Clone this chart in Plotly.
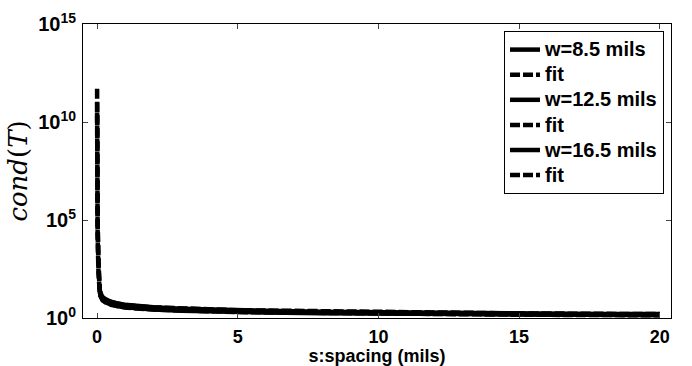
import plotly.graph_objects as go

# ---- data ----
s_data = [0.1, 0.2, 0.3, 0.5, 0.75, 1, 1.5, 2, 3, 4, 5, 6, 8, 10, 12, 14, 16, 18, 20]
cond_w85 = [22, 11, 8.5, 6.5, 5.3, 4.7, 3.9, 3.5, 3.0, 2.7, 2.5, 2.35, 2.1, 1.95, 1.85, 1.75, 1.68, 1.62, 1.58]
cond_w125 = [18, 9.5, 7.2, 5.5, 4.6, 4.0, 3.4, 3.0, 2.6, 2.35, 2.2, 2.05, 1.88, 1.76, 1.67, 1.6, 1.54, 1.49, 1.45]
cond_w165 = [15, 8, 6.2, 4.8, 4.0, 3.5, 3.0, 2.7, 2.35, 2.15, 2.0, 1.9, 1.75, 1.65, 1.57, 1.5, 1.45, 1.41, 1.38]

s_fit = [0.001, 0.002, 0.005, 0.01, 0.02, 0.05, 0.1, 0.2, 0.5, 1, 2, 5, 10, 15, 20]
fit_w85 = [5e11, 1e10, 2e8, 5e6, 1e5, 800, 24, 11, 6.4, 4.6, 3.5, 2.5, 1.95, 1.72, 1.58]
fit_w125 = [1e11, 3e9, 6e7, 1.5e6, 4e4, 400, 19, 9.5, 5.4, 3.9, 3.0, 2.2, 1.76, 1.55, 1.45]
fit_w165 = [3e10, 8e8, 2e7, 5e5, 1.5e4, 200, 16, 8, 4.7, 3.4, 2.7, 2.0, 1.65, 1.47, 1.38]

series_names = ["w=8.5 mils", "fit", "w=12.5 mils", "fit", "w=16.5 mils", "fit"]

x_ticks = [0, 5, 10, 15, 20]
y_ticks = [1, 1e5, 1e10, 1e15]
y_ticktext = ["10<sup>0</sup>", "10<sup>5</sup>", "10<sup>10</sup>", "10<sup>15</sup>"]

SANS = "Liberation Sans, Arial, sans-serif"


def legend_label(name):
    return '<span style="font-size:20px">' + name + '</span>'


fig = go.Figure()
pairs = [(s_data, cond_w85, s_fit, fit_w85),
         (s_data, cond_w125, s_fit, fit_w125),
         (s_data, cond_w165, s_fit, fit_w165)]
for i, (sx, sy, fx, fy) in enumerate(pairs):
    fig.add_trace(go.Scatter(x=sx, y=sy, mode="lines", name=legend_label(series_names[2 * i]),
                             line=dict(color="black", width=4.5)))
    fig.add_trace(go.Scatter(x=fx, y=fy, mode="lines", name=legend_label(series_names[2 * i + 1]),
                             line=dict(color="black", width=4.5, dash="10px,3px")))

fig.update_layout(
    width=692, height=366,
    margin=dict(l=83, r=21, t=24, b=48),
    paper_bgcolor="white", plot_bgcolor="white",
    showlegend=True,
    legend=dict(x=0.716, y=0.976, xanchor="left", yanchor="top",
                bgcolor="white", bordercolor="black", borderwidth=1,
                font=dict(family=SANS, size=17, color="black", weight="bold"),
                tracegroupgap=0),
    xaxis=dict(range=[-0.5, 20.4], tickvals=x_ticks, ticks="inside", ticklen=5,
               ticklabelstandoff=2,
               showline=True, linecolor="black", linewidth=1, mirror="ticks",
               showgrid=False, zeroline=False, automargin=False,
               tickfont=dict(family=SANS, size=18, color="black", weight="bold"),
               title=dict(text="s:spacing (mils)", standoff=2,
                          font=dict(family=SANS, size=18, color="black", weight="bold"))),
    yaxis=dict(type="log", range=[0, 15], tickvals=y_ticks, ticktext=y_ticktext,
               ticks="inside", ticklen=5, ticklabelstandoff=2,
               showline=True, linecolor="black", linewidth=1, mirror="ticks",
               showgrid=False, zeroline=False, automargin=False,
               tickfont=dict(family=SANS, size=20, color="black", weight="bold"),
               title=dict(text="<i>cond</i>(<i>T</i>)", standoff=3,
                          font=dict(family="DejaVu Serif, Liberation Serif, serif", size=26, color="black"))),
)

fig.write_html("out.html", config={"displayModeBar": False},
               post_script="document.body.style.margin='0px';")
